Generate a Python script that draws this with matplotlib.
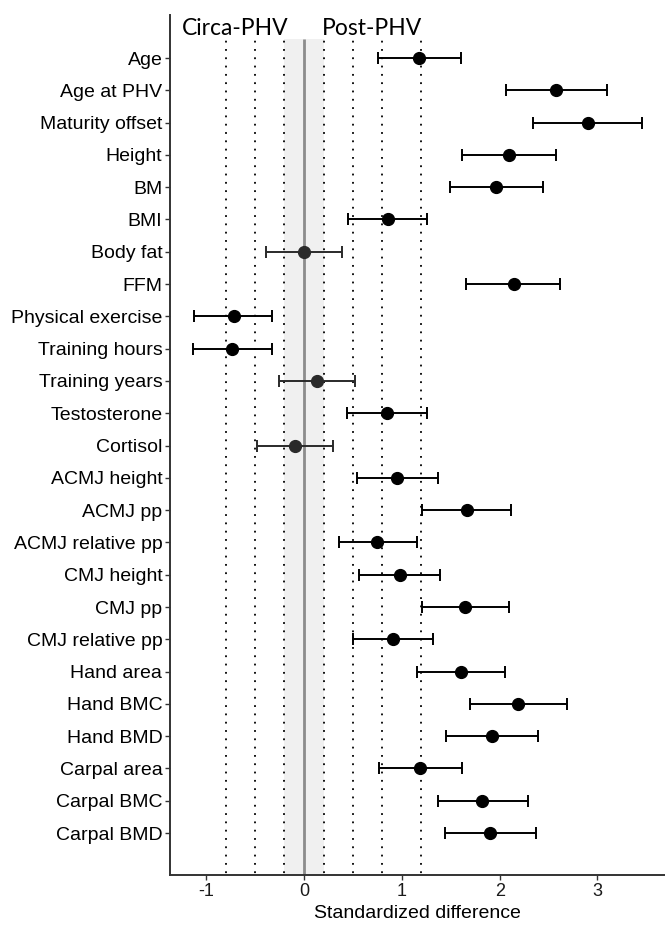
import matplotlib.pyplot as plt

# variables, top to bottom as shown
variables = [
    "Age", "Age at PHV", "Maturity offset", "Height", "BM", "BMI",
    "Body fat", "FFM", "Physical exercise", "Training hours",
    "Training years", "Testosterone", "Cortisol", "ACMJ height",
    "ACMJ pp", "ACMJ relative pp", "CMJ height", "CMJ pp",
    "CMJ relative pp", "Hand area", "Hand BMC", "Hand BMD",
    "Carpal area", "Carpal BMC", "Carpal BMD",
]
effect = [
    1.18, 2.58, 2.90, 2.10, 1.96, 0.86,
    0.00, 2.15, -0.72, -0.74,
    0.13, 0.85, -0.09, 0.95,
    1.67, 0.75, 0.98, 1.65,
    0.91, 1.60, 2.19, 1.92,
    1.19, 1.82, 1.90,
]
ci_low = [
    0.76, 2.06, 2.34, 1.62, 1.49, 0.45,
    -0.385, 1.66, -1.12, -1.13,
    -0.26, 0.44, -0.48, 0.54,
    1.21, 0.355, 0.56, 1.21,
    0.50, 1.15, 1.70, 1.45,
    0.77, 1.37, 1.44,
]
ci_high = [
    1.60, 3.10, 3.46, 2.58, 2.44, 1.26,
    0.39, 2.62, -0.325, -0.325,
    0.52, 1.26, 0.30, 1.37,
    2.12, 1.15, 1.39, 2.10,
    1.32, 2.05, 2.69, 2.39,
    1.61, 2.29, 2.37,
]
threshold_lines = [-0.8, -0.5, -0.2, 0.2, 0.5, 0.8, 1.2]
trivial_band = (-0.2, 0.2)
x_ticks = [-1, 0, 1, 2, 3]

TEXT_FONT = ["Liberation Sans", "DejaVu Sans"]
TOP = 25.58


def main():
    fig = plt.figure(figsize=(6.65, 9.26), dpi=100)
    ax = fig.add_axes([0.2556, 0.055, 0.7444, 0.9284])

    n = len(variables)
    ypos = [n - i for i in range(n)]

    ax.fill_betweenx([-1, TOP], trivial_band[0], trivial_band[1],
                     color="#f0f0f0", lw=0, zorder=0)
    ax.vlines(0, -1, TOP, color="#8c8c8c", lw=2.0, zorder=1)
    ax.vlines(threshold_lines, -1, TOP, colors="black", lw=1.3,
              linestyles=[(0, (1, 3.6))], zorder=1)

    for y, e, lo, hi in zip(ypos, effect, ci_low, ci_high):
        # intervals that cross zero are drawn in dark grey
        col = "#2a2a2a" if lo < 0 < hi else "black"
        ax.errorbar(e, y, xerr=[[e - lo], [hi - e]], fmt="o", color=col,
                    ms=8.5, elinewidth=1.4, capsize=4.5, capthick=1.4,
                    zorder=3)

    ax.text(-0.70, 25.72, "Circa-PHV", ha="center", va="baseline",
            fontsize=16.5, family=["Lato", "DejaVu Sans"])
    ax.text(0.69, 25.72, "Post-PHV", ha="center", va="baseline",
            fontsize=16.5, family=["Lato", "DejaVu Sans"])

    ax.set_xlim(-1.37, 3.69)
    ax.set_ylim(-0.30, 26.32)
    ax.set_yticks(ypos)
    ax.set_yticklabels(variables, family=TEXT_FONT, fontsize=14,
                       color="black")
    ax.set_xticks(x_ticks)
    ax.set_xticklabels([str(t) for t in x_ticks], family=TEXT_FONT,
                       fontsize=13, color="#1a1a1a")
    ax.set_xlabel("Standardized difference", family=TEXT_FONT,
                  fontsize=14, labelpad=4)

    for side in ("top", "right"):
        ax.spines[side].set_visible(False)
    for side in ("left", "bottom"):
        ax.spines[side].set_color("#333333")
        ax.spines[side].set_linewidth(1.4)
    ax.tick_params(length=3.5, width=1.0, color="#333333", pad=2)

    fig.savefig("out.png", dpi=100)
    plt.close(fig)


main()
